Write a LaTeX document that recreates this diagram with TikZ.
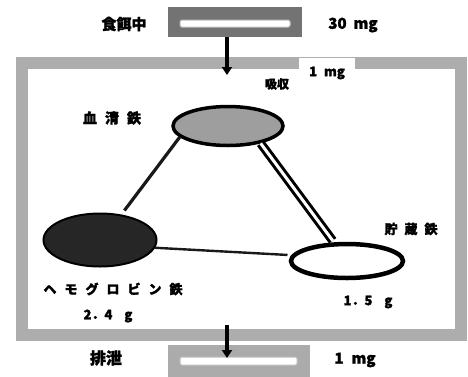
\documentclass[tikz,border=0pt]{standalone}
\usepackage{fontspec}
\newfontfamily\jp{Noto Sans CJK JP}[BoldFeatures={FakeBold=1.6}]
\usetikzlibrary{shapes.geometric,arrows.meta,calc}
\begin{document}
\begin{tikzpicture}[x=1pt,y=-1pt,
  lbl/.style={font=\jp\bfseries\fontsize{13}{13}\selectfont, inner sep=0pt, text=black},
  biglbl/.style={font=\jp\bfseries\fontsize{15}{15}\selectfont, inner sep=0pt, text=black},
  frame/.style={draw=black!32, line width=12pt, inner sep=0pt},
  flowbox/.style={rectangle, inner sep=0pt},
  bar/.style={rectangle, fill=white, draw=black!25, line width=1pt, rounded corners=1.5pt, inner sep=0pt},
  pool/.style={ellipse, draw=black, inner sep=0pt},
  conn/.style={draw=black!90, line width=3.2pt},
  arr/.style={draw=black, line width=4pt, -{Triangle[width=10pt,length=8pt]}}
]
\useasboundingbox (0,0) rectangle (468,376);

% big frame
\node[frame, minimum width=439pt, minimum height=272pt] (frame) at (241.5,199) {};

% top and bottom boxes
\node[flowbox, fill=black!55, minimum width=134pt, minimum height=30pt] (topbox) at (235,22) {};
\node[bar, minimum width=110pt, minimum height=7pt] (topbar) at (235,23.5) {};
\node[flowbox, fill=black!33, minimum width=142pt, minimum height=34pt] (botbox) at (239,362) {};
\node[bar, minimum width=117pt, minimum height=8pt] (botbar) at (238.5,361) {};

% pools
\node[pool, line width=3.5pt, fill=black!38, minimum width=110pt, minimum height=39pt] (serum) at (228,126) {};
\node[pool, line width=2pt, fill=black!85, minimum width=113pt, minimum height=53pt] (hemo) at (100,240) {};
\node[pool, line width=4.5pt, fill=white, minimum width=112pt, minimum height=34pt] (store) at (347,261) {};

% connectors
\draw[conn, shorten >=5pt] (serum.193) -- (hemo.50);
\draw[conn, line width=2.4pt, shorten >=4pt] (hemo.-8) -- (store.174);
\draw[draw=black, line width=3pt, double=white, double distance=3pt, shorten >=2pt] (serum.-28) -- (store.125);

% arrows
\coordinate (inEnd) at (227,75);
\coordinate (outStart) at (227,325);
\coordinate (outEnd) at (227,358);
\draw[arr] (topbox.south -| inEnd) -- (inEnd);
\draw[arr] (outStart) -- (outEnd);

% labels
\node[biglbl] (diet) at (124,24) {食餌中};
\node[biglbl] (dietval) at (353,25) {30\hspace{7pt}mg};
\node[lbl, fill=white, minimum width=56pt, minimum height=30pt] (absval) at (327,73) {1\hspace{7pt}mg};
\node[lbl, font=\jp\bfseries\fontsize{12}{12}\selectfont] (abs) at (277,84) {吸収};
\node[lbl, font=\jp\bfseries\fontsize{14}{14}\selectfont] (serumlbl) at (112,118) {血\hspace{8pt}清\hspace{8pt}鉄};
\node[lbl] (storelbl) at (411,229) {貯\hspace{7pt}蔵\hspace{7pt}鉄};
\node[lbl] (hemolbl) at (113,289) {ヘ\hspace{8pt}モ\hspace{8pt}グ\hspace{8pt}ロ\hspace{8pt}ビ\hspace{8pt}ン\hspace{8pt}鉄};
\node[lbl] (hemoval) at (108,316) {2．4\hspace{12pt}g};
\node[lbl] (storeval) at (368,302) {1．5\hspace{12pt}g};
\node[biglbl, font=\jp\bfseries\fontsize{16}{16}\selectfont] (excr) at (106,358) {排泄};
\node[biglbl] (excrval) at (355,360) {1\hspace{8pt}mg};
\end{tikzpicture}
\end{document}
